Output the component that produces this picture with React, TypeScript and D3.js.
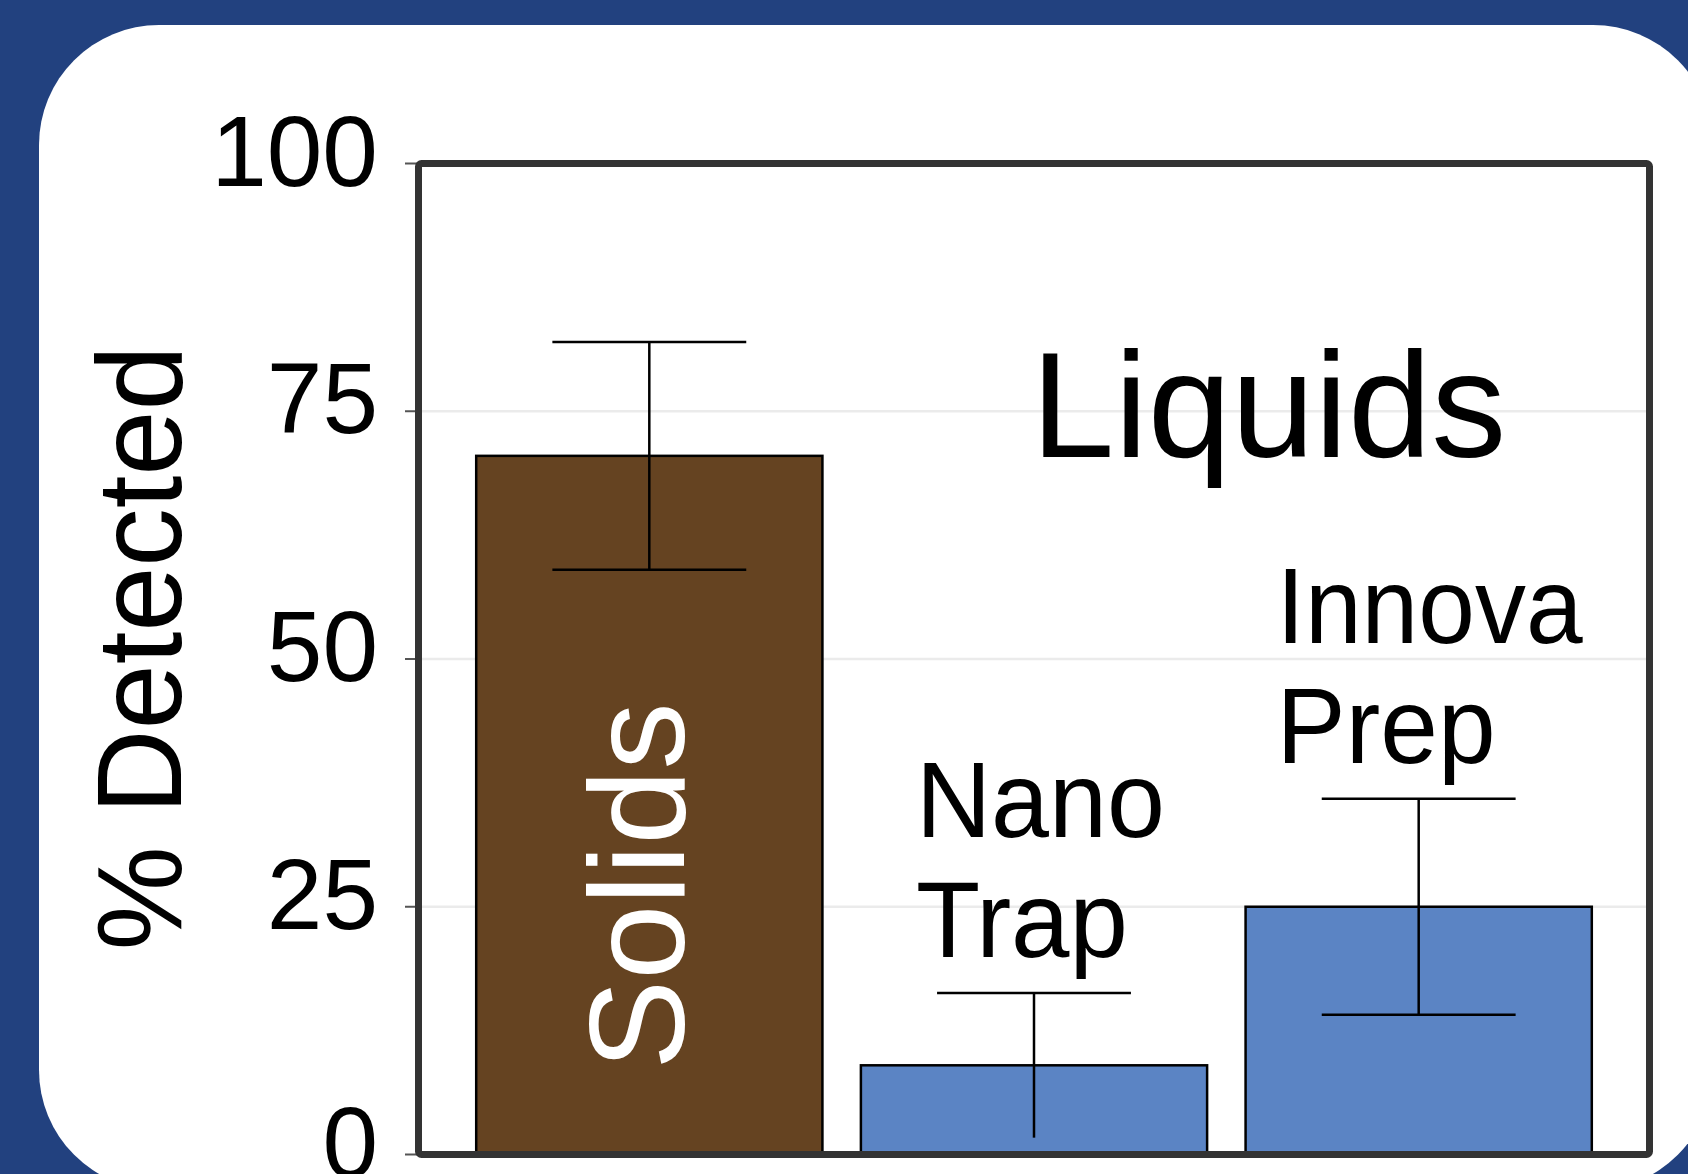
import React from "react";
import * as d3 from "d3";

// chart values
const categories = ["Solids", "NanoTrap", "InnovaPrep"];
const means = [70.5, 9.0, 25.0];
const errors = [11.5, 7.3, 10.9];
const lowerCaps = [true, false, true];
const barColors = ["#654321", "#5b84c4", "#5b84c4"];
const yTicks = [0, 25, 50, 75, 100];
const gridTicks = [25, 50, 75];

// label lines above the liquid bars (null = label drawn inside the bar)
const labelLines: (string[] | null)[] = [null, ["Nano", "Trap"], ["Innova", "Prep"]];
const labelLengths: (number[] | null)[] = [null, [249, 212], [306, 219]];
const labelOffsets = [0, 55, 31];

const W = 1688;
const H = 1174;
const FONT = "'Liberation Sans', Arial, Helvetica, sans-serif";

export default function App() {
  const frame = { left: 418.5, right: 1649.5, top: 163.5, bottom: 1154.5 };

  const x = d3
    .scaleBand<string>()
    .domain(categories)
    .range([frame.left, frame.right])
    .paddingInner(0.1)
    .paddingOuter(0.15);

  const y = d3.scaleLinear().domain([0, 100]).range([frame.bottom, frame.top]);

  const bw = x.bandwidth();
  const capHalf = bw * 0.28;

  return (
    <svg
      width={W}
      height={H}
      viewBox={`0 0 ${W} ${H}`}
      style={{ position: "absolute", left: 0, top: 0, display: "block" }}
      fontFamily={FONT}
    >
      <rect x={0} y={0} width={W} height={H} fill="#22417f" />
      <rect x={39} y={25} width={1674} height={1165} rx={120} ry={120} fill="#ffffff" />

      {/* gridlines */}
      {gridTicks.map((t) => (
        <line
          key={"g" + t}
          x1={frame.left}
          x2={frame.right}
          y1={y(t)}
          y2={y(t)}
          stroke="#ebebeb"
          strokeWidth={2.5}
        />
      ))}

      {/* bars */}
      {categories.map((c, i) => (
        <rect
          key={c}
          x={x(c)!}
          y={y(means[i])}
          width={bw}
          height={y(0) - y(means[i])}
          fill={barColors[i]}
          stroke="#000"
          strokeWidth={2.5}
        />
      ))}

      {/* error bars */}
      {categories.map((c, i) => {
        const cx = x(c)! + bw / 2;
        const hi = y(means[i] + errors[i]);
        const lo = y(Math.max(0, means[i] - errors[i]));
        return (
          <g key={"e" + c} stroke="#000" strokeWidth={2.5}>
            <line x1={cx} x2={cx} y1={hi} y2={lo} />
            <line x1={cx - capHalf} x2={cx + capHalf} y1={hi} y2={hi} />
            {lowerCaps[i] && <line x1={cx - capHalf} x2={cx + capHalf} y1={lo} y2={lo} />}
          </g>
        );
      })}

      {/* y ticks and labels */}
      {yTicks.map((t) => (
        <g key={"t" + t}>
          <line x1={405} x2={frame.left} y1={y(t)} y2={y(t)} stroke="#555" strokeWidth={2} />
          <text x={378} y={y(t) + 22} textAnchor="end" fontSize={100} fill="#000">
            {t}
          </text>
        </g>
      ))}

      {/* frame */}
      <rect
        x={frame.left}
        y={frame.top}
        width={frame.right - frame.left}
        height={frame.bottom - frame.top}
        fill="none"
        stroke="#333"
        strokeWidth={7}
        rx={3}
      />

      {/* y axis title */}
      <text
        transform="translate(181,648) rotate(-90)"
        textAnchor="middle"
        fontSize={120}
        textLength={605}
        lengthAdjust="spacingAndGlyphs"
        fill="#000"
      >
        % Detected
      </text>

      {/* solids label inside bar */}
      <text
        transform={`translate(${x("Solids")! + bw / 2 + 35},886) rotate(-90)`}
        textAnchor="middle"
        fontSize={135}
        fill="#fff"
      >
        Solids
      </text>

      {/* group title */}
      <text x={1031} y={457} fontSize={150} fill="#000">
        Liquids
      </text>

      {/* liquid method labels */}
      {categories.map((c, i) => {
        const lines = labelLines[i];
        if (!lines) return null;
        const lastBase = y(means[i] + errors[i]) - 36;
        return (
          <g key={"l" + c}>
            {lines.map((ln, j) => (
              <text
                key={ln}
                x={x(c)! + labelOffsets[i]}
                y={lastBase - (lines.length - 1 - j) * 120}
                fontSize={107}
                textLength={labelLengths[i]![j]}
                lengthAdjust="spacingAndGlyphs"
                fill="#000"
              >
                {ln}
              </text>
            ))}
          </g>
        );
      })}
    </svg>
  );
}
